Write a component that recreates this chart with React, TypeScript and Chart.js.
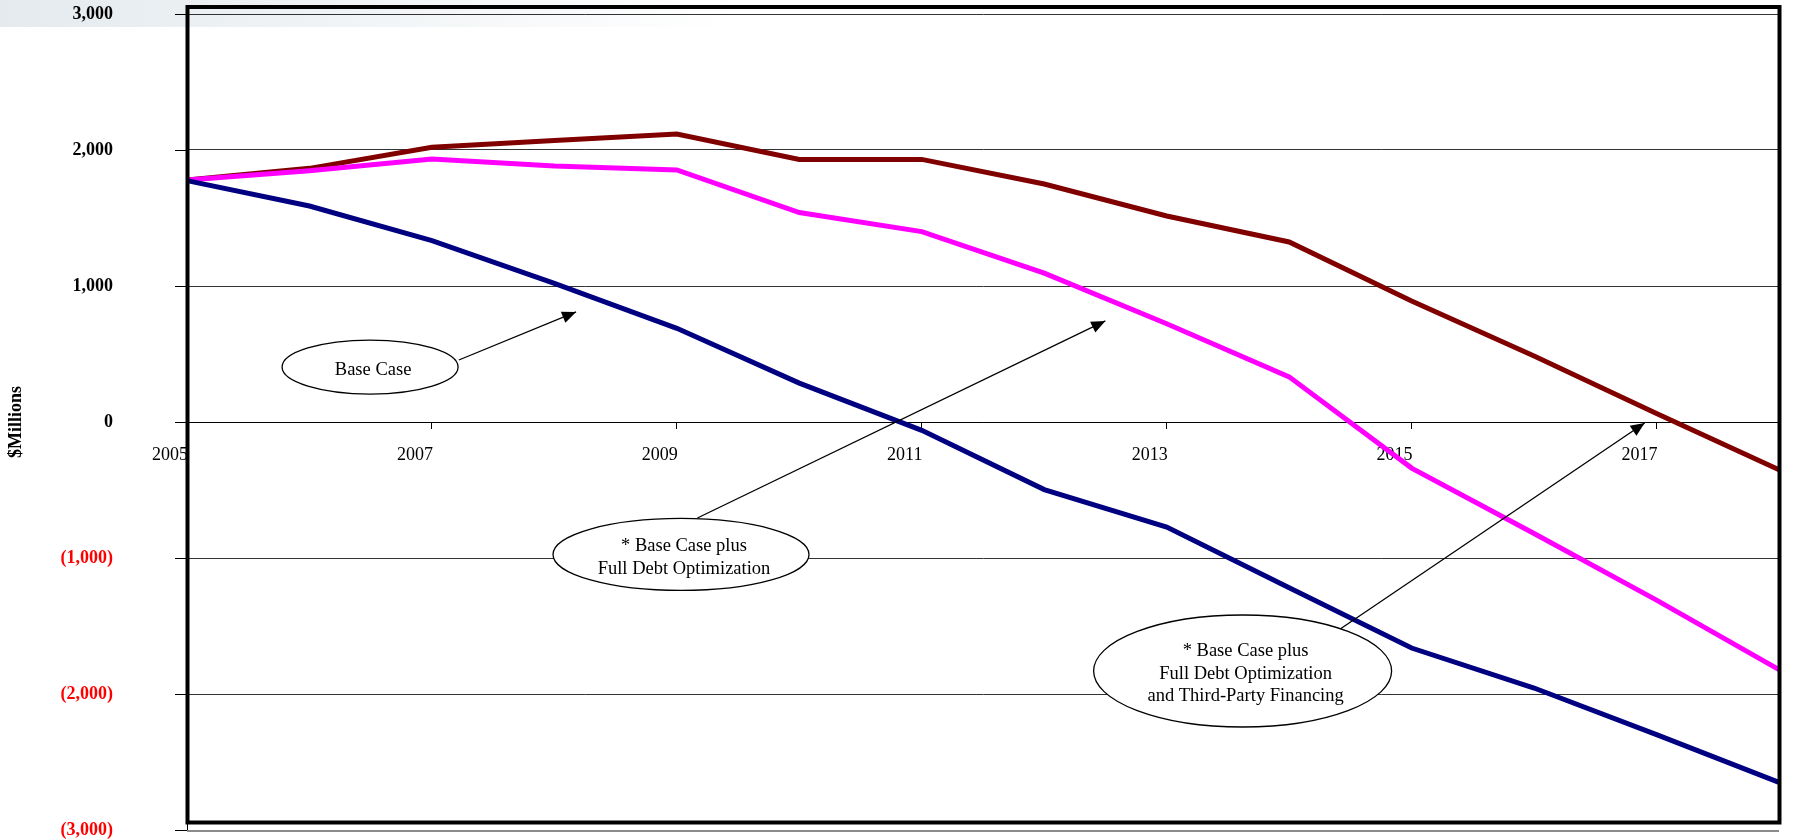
import React, { useEffect, useRef } from 'react';
import { Chart, registerables } from 'chart.js';

Chart.register(...registerables);

// ---- data ----
const years = ['2005', '2006', '2007', '2008', '2009', '2010', '2011', '2012', '2013', '2014', '2015', '2016', '2017', '2018'];
const baseCase = [1775, 1588, 1333, 1020, 689, 286, -61, -497, -772, -1218, -1662, -1956, -2299, -2650];
const fullDebt = [1779, 1848, 1934, 1882, 1853, 1540, 1400, 1094, 722, 332, -339, -820, -1310, -1821];
const thirdParty = [1779, 1865, 2020, 2069, 2118, 1931, 1931, 1750, 1515, 1324, 889, 485, 62, -351];
const yMin = -3000;
const yMax = 3000;
const yStep = 1000;

const noteBase = ['Base Case'];
const noteDebt = ['* Base Case plus', 'Full Debt Optimization'];
const noteThird = ['* Base Case plus', 'Full Debt Optimization', 'and Third-Party Financing'];

const FONT = "'Liberation Serif', 'Times New Roman', Times, serif";

function fmt(v: number): string {
  const s = Math.abs(v).toLocaleString('en-US');
  return v < 0 ? `(${s})` : s;
}

// annotation anchors in data space (category index, value), sizes in px
const notes = [
  { lines: noteBase, cx: 1.495, cy: 404, rx: 88, ry: 27, ax0: 2.22, ay0: 456, ax1: 3.177, ay1: 809 },
  { lines: noteDebt, cx: 4.034, cy: -974, rx: 128, ry: 36, ax0: 4.168, ay0: -706, ax1: 7.499, ay1: 743 },
  { lines: noteThird, cx: 8.62, cy: -1831, rx: 149, ry: 56, ax0: 9.417, ay0: -1522, ax1: 11.903, ay1: -7 },
];

export default function App() {
  const ref = useRef<HTMLCanvasElement>(null);

  useEffect(() => {
    const canvas = ref.current;
    if (!canvas) return;

    const annotPlugin = {
      id: 'annot',
      beforeDraw(chart: any) {
        const ctx = chart.ctx;
        ctx.save();
        const g = ctx.createLinearGradient(0, 0, 740, 0);
        g.addColorStop(0, 'rgba(228,234,238,1)');
        g.addColorStop(1, 'rgba(255,255,255,1)');
        ctx.fillStyle = g;
        ctx.fillRect(0, 0, 740, 27);
        ctx.restore();
      },
      afterDatasetsDraw(chart: any) {
        const ctx = chart.ctx;
        const xs = chart.scales.x;
        const ys = chart.scales.y;
        ctx.save();
        for (const n of notes) {
          const cx = xs.getPixelForValue(n.cx);
          const cy = ys.getPixelForValue(n.cy);
          const x0 = xs.getPixelForValue(n.ax0);
          const y0 = ys.getPixelForValue(n.ay0);
          const x1 = xs.getPixelForValue(n.ax1);
          const y1 = ys.getPixelForValue(n.ay1);
          ctx.strokeStyle = '#000';
          ctx.lineWidth = 1.3;
          ctx.beginPath();
          ctx.moveTo(x0, y0);
          ctx.lineTo(x1, y1);
          ctx.stroke();
          const ang = Math.atan2(y1 - y0, x1 - x0);
          const L = 14;
          const W = 6;
          ctx.fillStyle = '#000';
          ctx.beginPath();
          ctx.moveTo(x1, y1);
          ctx.lineTo(x1 - L * Math.cos(ang) + W * Math.sin(ang), y1 - L * Math.sin(ang) - W * Math.cos(ang));
          ctx.lineTo(x1 - L * Math.cos(ang) - W * Math.sin(ang), y1 - L * Math.sin(ang) + W * Math.cos(ang));
          ctx.closePath();
          ctx.fill();
          ctx.beginPath();
          ctx.ellipse(cx, cy, n.rx, n.ry, 0, 0, Math.PI * 2);
          ctx.fillStyle = '#fff';
          ctx.fill();
          ctx.lineWidth = 1.3;
          ctx.strokeStyle = '#000';
          ctx.stroke();
          ctx.fillStyle = '#000';
          ctx.font = `18.5px ${FONT}`;
          ctx.textAlign = 'center';
          ctx.textBaseline = 'middle';
          const lh = 22.5;
          const start = cy - ((n.lines.length - 1) * lh) / 2 + 3;
          n.lines.forEach((t, i) => ctx.fillText(t, cx + 3, start + i * lh));
        }
        ctx.restore();
      },
      afterDraw(chart: any) {
        const ctx = chart.ctx;
        const a = chart.chartArea;
        const ys = chart.scales.y;
        ctx.save();
        // y tick marks (12px, left of axis)
        ctx.strokeStyle = '#000';
        ctx.lineWidth = 1;
        for (const t of ys.ticks) {
          const y = Math.round(ys.getPixelForValue(t.value)) + 0.5;
          ctx.beginPath();
          ctx.moveTo(a.left - 12, y);
          ctx.lineTo(a.left, y);
          ctx.stroke();
        }
        // bottom gray line
        ctx.strokeStyle = '#8a8a8a';
        ctx.lineWidth = 2;
        ctx.beginPath();
        ctx.moveTo(a.left, a.bottom + 1);
        ctx.lineTo(a.right, a.bottom + 1);
        ctx.stroke();
        // thick frame
        ctx.strokeStyle = '#000';
        ctx.lineWidth = 4;
        ctx.strokeRect(a.left + 0.5, a.top - 7, a.right - a.left, a.bottom - a.top - 0.5);
        ctx.restore();
      },
    };

    const chart = new Chart(canvas, {
      type: 'line',
      data: {
        labels: years,
        datasets: [
          { label: 'Base Case', data: baseCase, borderColor: '#000080', backgroundColor: '#000080', borderWidth: 5, pointRadius: 0, tension: 0, fill: false, borderJoinStyle: 'miter' },
          { label: 'Full Debt Optimization', data: fullDebt, borderColor: '#ff00ff', backgroundColor: '#ff00ff', borderWidth: 5, pointRadius: 0, tension: 0, fill: false, borderJoinStyle: 'miter' },
          { label: 'Full Debt Optimization and Third-Party Financing', data: thirdParty, borderColor: '#800000', backgroundColor: '#800000', borderWidth: 5, pointRadius: 0, tension: 0, fill: false, borderJoinStyle: 'miter' },
        ],
      },
      options: {
        animation: false,
        responsive: false,
        maintainAspectRatio: false,
        layout: { padding: { left: 0, right: 8, top: 14, bottom: 10 } },
        plugins: { legend: { display: false }, tooltip: { enabled: false }, title: { display: false } },
        scales: {
          x: {
            type: 'category',
            position: { y: 0 } as any,
            offset: false,
            grid: {
              drawOnChartArea: false,
              drawTicks: true,
              tickLength: 6,
              tickWidth: 1,
              tickColor: (c: any) => (c.index % 2 === 0 ? '#000' : 'rgba(0,0,0,0)'),
            },
            border: { display: true, color: '#000', width: 1 },
            ticks: {
              autoSkip: false,
              maxRotation: 0,
              minRotation: 0,
              padding: 16,
              labelOffset: -17,
              color: '#000',
              font: { family: FONT, size: 18 },
              callback: (_v: any, i: number) => (i % 2 === 0 ? years[i] : ''),
            },
          },
          y: {
            min: yMin,
            max: yMax,
            afterFit: (s: any) => {
              s.width = 187;
            },
            grid: {
              color: (c: any) => (c.tick && c.tick.value === yMin ? '#999' : c.tick && c.tick.value === 0 ? '#000' : '#333'),
              lineWidth: 1,
              tickLength: 74,
              tickColor: 'rgba(0,0,0,0)',
            },
            border: { display: true, color: '#000', width: 1 },
            ticks: {
              stepSize: yStep,
              padding: 0,
              font: { family: FONT, size: 18, weight: 'bold', lineHeight: 1 },
              color: (c: any) => (c.tick && c.tick.value < 0 ? '#ff0000' : '#000'),
              callback: (v: any) => fmt(Number(v)),
            },
            title: {
              display: true,
              text: '$Millions',
              color: '#000',
              font: { family: FONT, size: 18, weight: 'bold' },
              padding: { top: 6, bottom: 0 },
            },
          },
        },
      },
      plugins: [annotPlugin],
    } as any);

    return () => chart.destroy();
  }, []);

  return (
    <div style={{ position: 'absolute', left: 0, top: 0, width: 1795, height: 840, background: '#fff' }}>
      <canvas ref={ref} width={1795} height={840} style={{ display: 'block', width: 1795, height: 840 }} />
    </div>
  );
}
